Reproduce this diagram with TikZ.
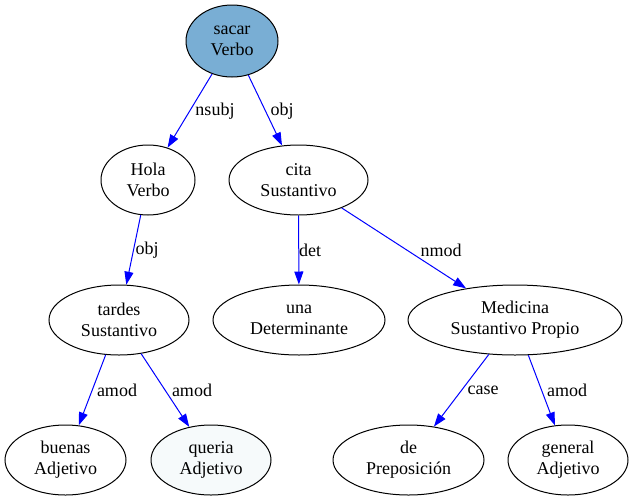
\documentclass[tikz,border=0pt]{standalone}
\usepackage{fontspec}
\setmainfont{Liberation Serif}
\usetikzlibrary{shapes.geometric,arrows.meta}
\definecolor{rootfill}{RGB}{121,174,212}
\definecolor{lightfill}{RGB}{246,250,251}
\definecolor{edgeblue}{RGB}{0,0,255}
\tikzset{
  tok/.style={ellipse, draw=black, line width=1pt, inner sep=0pt, minimum height=70pt, align=center, font=\fontsize{18}{21}\selectfont},
  dep/.style={draw=edgeblue, line width=1pt, -{Triangle[length=13pt,width=9pt]}},
  lbl/.style={font=\fontsize{18}{21}\selectfont, inner sep=0pt},
}
\begin{document}
\begin{tikzpicture}[x=1pt,y=-1pt]
\useasboundingbox (0,0) rectangle (634,501);
% nodes
\node[tok, fill=rootfill, minimum width=92pt, minimum height=72pt] (sacar) at (232,41) {sacar\\Verbo};
\node[tok, minimum width=94pt] (hola) at (148,180) {Hola\\Verbo};
\node[tok, minimum width=139pt] (cita) at (298.5,180) {cita\\Sustantivo};
\node[tok, minimum width=140pt] (tardes) at (119,320) {tardes\\Sustantivo};
\node[tok, minimum width=172pt] (una) at (299,320) {una\\Determinante};
\node[tok, minimum width=214pt] (medicina) at (515,320) {Medicina\\Sustantivo Propio};
\node[tok, minimum width=121pt] (buenas) at (65.5,460) {buenas\\Adjetivo};
\node[tok, fill=lightfill, minimum width=120pt] (queria) at (211,460) {queria\\Adjetivo};
\node[tok, minimum width=151pt] (de) at (408.5,460) {de\\Preposición};
\node[tok, minimum width=120pt] (general) at (568,460) {general\\Adjetivo};
% edges
\draw[dep] (sacar) -- (hola);
\draw[dep] (sacar) -- (cita);
\draw[dep] (hola) -- (tardes);
\draw[dep] (cita) -- (una);
\draw[dep] (cita) -- (medicina);
\draw[dep] (tardes) -- (buenas);
\draw[dep] (tardes) -- (queria);
\draw[dep] (medicina) -- (de);
\draw[dep] (medicina) -- (general);
% edge labels
\node[lbl] (l1) at (215,111) {nsubj};
\node[lbl] (l2) at (282,111) {obj};
\node[lbl] (l3) at (147,250) {obj};
\node[lbl] (l4) at (310,250) {det};
\node[lbl] (l5) at (441,250) {nmod};
\node[lbl] (l6) at (117,390) {amod};
\node[lbl] (l7) at (192,390) {amod};
\node[lbl] (l8) at (483,390) {case};
\node[lbl] (l9) at (567,390) {amod};
\end{tikzpicture}
\end{document}
